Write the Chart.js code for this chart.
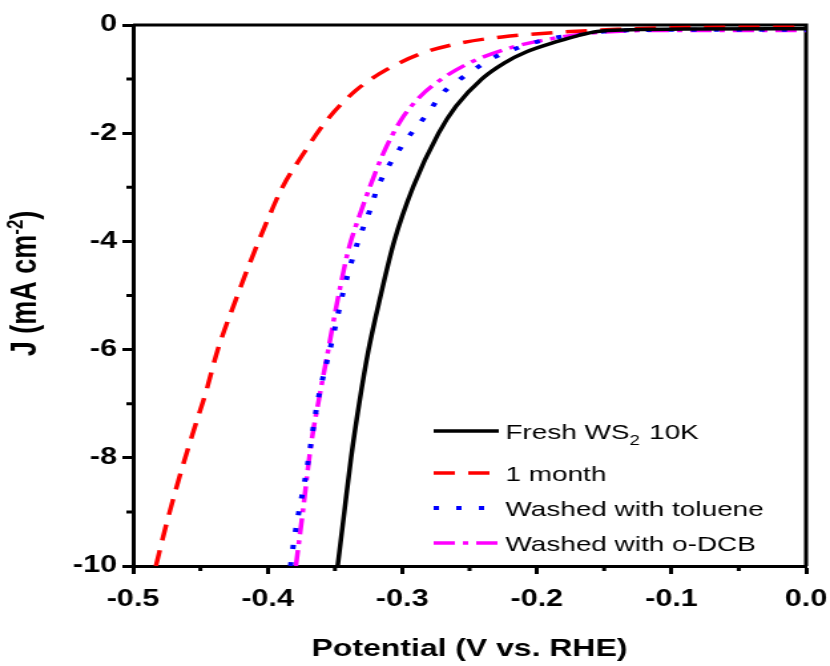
<!DOCTYPE html>
<html>
<head>
<meta charset="utf-8">
<script src="https://cdn.jsdelivr.net/npm/chart.js@4.4.0/dist/chart.umd.min.js"></script>
<style>
  html, body { margin: 0; padding: 0; background: #fff; overflow: hidden; }
  /* the source figure is stretched horizontally, so the canvas is too */
  #wrap { width: 624px; height: 666px; transform: scaleX(1.3301); transform-origin: 0 0; }
</style>
</head>
<body>
<div id="wrap"><canvas id="lsvChart"></canvas></div>
<script>
// Potential (V vs. RHE) and current density (mA cm-2) for each sample
const freshV = [-0.348, -0.343, -0.338, -0.332, -0.325, -0.316, -0.306, -0.292, -0.273, -0.260, -0.241, -0.224, -0.208, -0.184, -0.170, -0.155, -0.130, -0.090, 0.0];
const freshJ = [-10, -9, -8, -7, -6, -5, -4, -3, -2, -1.5, -1, -0.7, -0.5, -0.3, -0.2, -0.12, -0.09, -0.075, -0.07];

const monthV = [-0.483, -0.476, -0.466, -0.455, -0.446, -0.437, -0.424, -0.410, -0.400, -0.389, -0.374, -0.356, -0.334, -0.312, -0.285, -0.256, -0.226, -0.181, -0.140, -0.100, 0.0];
const monthJ = [-10, -9.3, -8.4, -7.5, -6.8, -6.0, -5.1, -4.2, -3.6, -3.0, -2.4, -1.76, -1.2, -0.83, -0.52, -0.33, -0.22, -0.13, -0.08, -0.05, -0.04];

const tolueneV = [-0.383, -0.380, -0.371, -0.363, -0.352, -0.344, -0.335, -0.324, -0.318, -0.301, -0.281, -0.270, -0.258, -0.244, -0.231, -0.215, -0.200, -0.173, -0.150, -0.100, 0.0];
const tolueneJ = [-10, -9.46, -8.23, -6.99, -5.82, -4.95, -4.16, -3.42, -2.99, -2.26, -1.63, -1.26, -1.02, -0.78, -0.59, -0.43, -0.31, -0.18, -0.12, -0.09, -0.09];

const dcbV = [-0.379, -0.374, -0.368, -0.361, -0.355, -0.348, -0.340, -0.331, -0.324, -0.314, -0.301, -0.287, -0.272, -0.250, -0.218, -0.181, -0.150, -0.100, 0.0];
const dcbJ = [-10, -9.02, -7.80, -6.80, -6.01, -5.08, -4.16, -3.47, -2.99, -2.37, -1.76, -1.33, -1.02, -0.70, -0.41, -0.22, -0.13, -0.10, -0.10];

const seriesLabels = ['Fresh WS\u2082 10K', '1 month', 'Washed with toluene', 'Washed with o-DCB'];

const toPoints = (xs, ys) => xs.map((v, i) => ({ x: v, y: ys[i] }));

const FONT = '"Liberation Sans", Arial, sans-serif';

// top/right frame and minor ticks
const framePlugin = {
    id: 'frame',
    beforeDatasetsDraw(chart) {
        const { ctx, chartArea: a, scales: { x, y } } = chart;
        ctx.save();
        ctx.strokeStyle = '#000';
        ctx.lineWidth = 3;
        ctx.beginPath();
        ctx.moveTo(a.left, a.top);
        ctx.lineTo(a.right, a.top);
        ctx.lineTo(a.right, a.bottom);
        ctx.stroke();

        ctx.beginPath();
        for (let i = 1; i < x.ticks.length; i++) {
            const px = x.getPixelForValue((x.ticks[i - 1].value + x.ticks[i].value) / 2);
            ctx.moveTo(px, a.bottom);
            ctx.lineTo(px, a.bottom + 5);
        }
        for (let i = 1; i < y.ticks.length; i++) {
            const py = y.getPixelForValue((y.ticks[i - 1].value + y.ticks[i].value) / 2);
            ctx.moveTo(a.left, py);
            ctx.lineTo(a.left - 5, py);
        }
        ctx.stroke();
        ctx.restore();
    },
    afterDraw(chart) {
        const { ctx, chartArea: a } = chart;
        ctx.save();

        // y axis title with superscript
        const big = 'bold 27px ' + FONT;
        const small = 'bold 17px ' + FONT;
        const parts = [['J (mA cm', big, 0], ['-2', small, -10], [')', big, 0]];
        let total = 0;
        parts.forEach(p => { ctx.font = p[1]; total += ctx.measureText(p[0]).width; });
        ctx.translate(17, (a.top + a.bottom) / 2 - 12);
        ctx.rotate(-Math.PI / 2);
        ctx.fillStyle = '#000';
        ctx.textBaseline = 'alphabetic';
        let cx = -total / 2;
        parts.forEach(p => {
            ctx.font = p[1];
            ctx.fillText(p[0], cx, 10 + p[2]);
            cx += ctx.measureText(p[0]).width;
        });
        ctx.restore();

        // legend
        ctx.save();
        const rows = [431, 473, 508, 543];
        chart.data.datasets.forEach((ds, i) => {
            const ry = rows[i];
            ctx.strokeStyle = ds.borderColor;
            ctx.lineWidth = ds.borderWidth;
            ctx.setLineDash(ds.borderDash || []);
            ctx.beginPath();
            ctx.moveTo(326, ry);
            ctx.lineTo(375, ry);
            ctx.stroke();

            ctx.fillStyle = '#000';
            ctx.textBaseline = 'alphabetic';
            let tx = 380;
            const base = ry + 8;
            ds.label.split(/(\u2082)/).forEach(chunk => {
                if (chunk === '\u2082') {
                    ctx.font = '14px ' + FONT;
                    ctx.fillText('2', tx, base + 6);
                    tx += ctx.measureText('2').width + 1;
                } else if (chunk) {
                    ctx.font = '21px ' + FONT;
                    ctx.fillText(chunk, tx, base);
                    tx += ctx.measureText(chunk).width;
                }
            });
        });
        ctx.restore();
    }
};

const tickFont = { family: FONT, size: 23, weight: 'bold' };

new Chart(document.getElementById('lsvChart'), {
    type: 'line',
    data: {
        datasets: [{
            label: seriesLabels[0],
            data: toPoints(freshV, freshJ),
            borderColor: '#000000',
            borderWidth: 3.5
        }, {
            label: seriesLabels[1],
            data: toPoints(monthV, monthJ),
            borderColor: '#ff0000',
            borderWidth: 3.5,
            borderDash: [16, 10]
        }, {
            label: seriesLabels[2],
            data: toPoints(tolueneV, tolueneJ),
            borderColor: '#0000ff',
            borderWidth: 4,
            borderDash: [4, 13]
        }, {
            label: seriesLabels[3],
            data: toPoints(dcbV, dcbJ),
            borderColor: '#ff00ff',
            borderWidth: 3.5,
            borderDash: [16, 6, 4, 6]
        }]
    },
    options: {
        responsive: true,
        maintainAspectRatio: false,
        animation: false,
        layout: { padding: { top: 25, right: 18, left: 0, bottom: 0 } },
        elements: {
            point: { radius: 0 },
            line: { cubicInterpolationMode: 'monotone' }
        },
        plugins: {
            legend: { display: false },
            tooltip: { enabled: false }
        },
        scales: {
            x: {
                type: 'linear',
                min: -0.5,
                max: 0,
                ticks: {
                    stepSize: 0.1,
                    callback: v => (Math.abs(v) < 1e-9 ? 0 : v).toFixed(1),
                    font: tickFont,
                    color: '#000',
                    padding: 12,
                    maxRotation: 0
                },
                grid: { drawOnChartArea: false, tickLength: 8, tickWidth: 3, tickColor: '#000' },
                border: { color: '#000', width: 3 },
                title: {
                    display: true,
                    text: 'Potential (V vs. RHE)',
                    font: { family: FONT, size: 24, weight: 'bold' },
                    color: '#000',
                    padding: { top: 2, bottom: 2 }
                },
                afterFit: s => {
                    s.height = 100;
                    s.paddingLeft = 0;
                    s.paddingRight = 0;
                }
            },
            y: {
                min: -10,
                max: 0,
                ticks: {
                    stepSize: 2,
                    font: tickFont,
                    color: '#000',
                    padding: 4
                },
                grid: { drawOnChartArea: false, tickLength: 8, tickWidth: 3, tickColor: '#000' },
                border: { color: '#000', width: 3 },
                afterFit: s => {
                    s.width = 100;
                    s.paddingTop = 0;
                    s.paddingBottom = 0;
                }
            }
        }
    },
    plugins: [framePlugin]
});
</script>
</body>
</html>
